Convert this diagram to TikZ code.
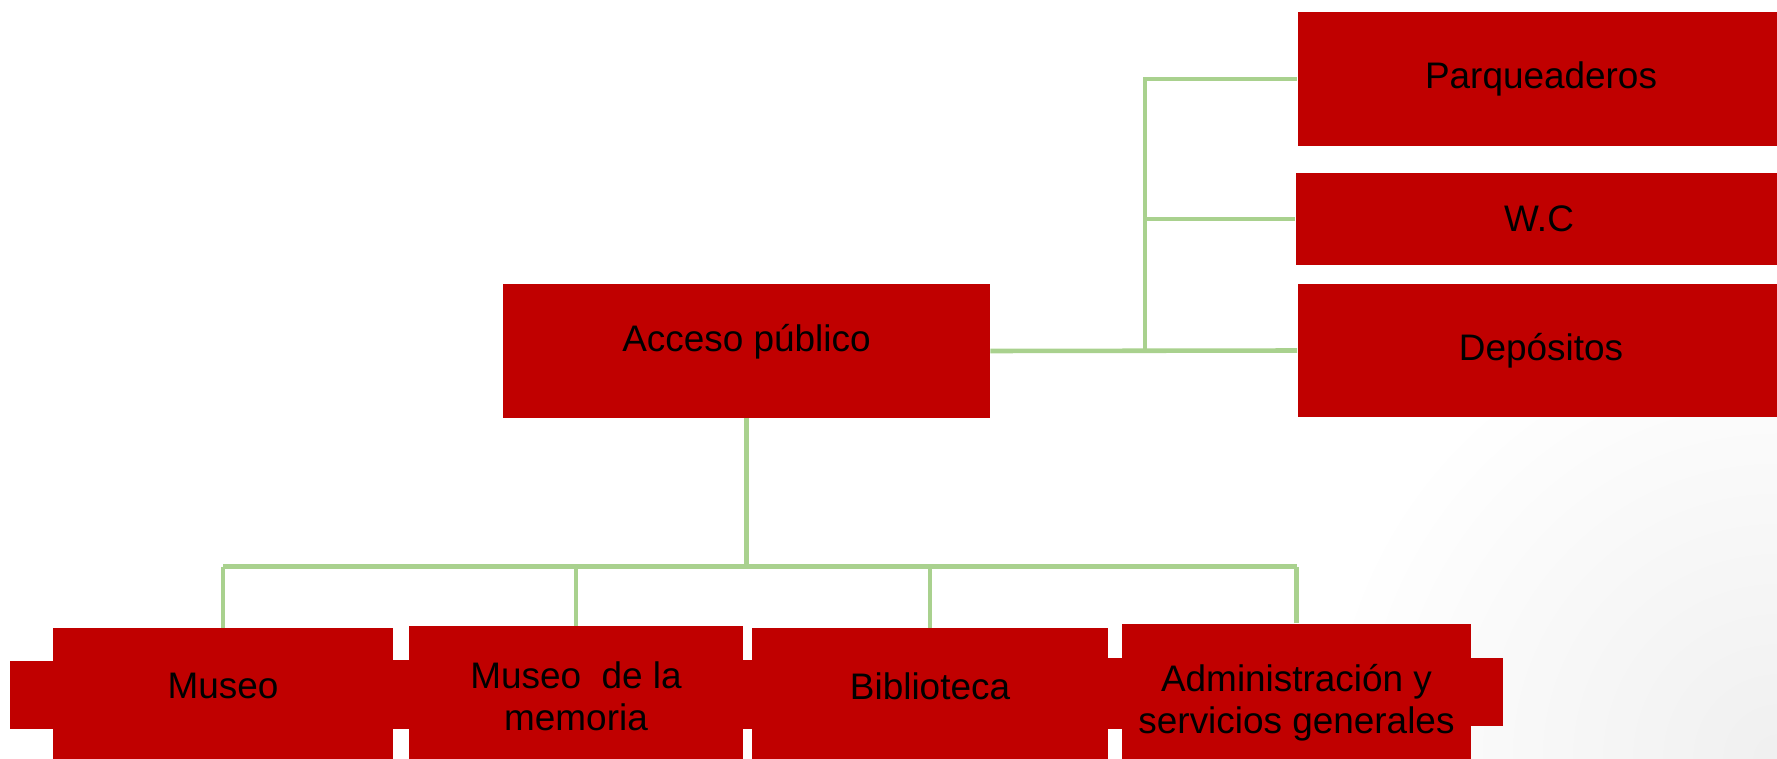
\documentclass[tikz,border=0pt]{standalone}
\usepackage{fontspec}
\setmainfont{Liberation Sans}
\usetikzlibrary{backgrounds,calc}
\definecolor{boxred}{RGB}{192,0,0}
\definecolor{linkgreen}{RGB}{169,209,142}
\tikzset{
	box/.style={fill=boxred, inner sep=0pt, align=center, font=\fontsize{10.5}{12}\selectfont},
	topbox/.style={box, minimum width=4.86cm},
	link/.style={linkgreen, line width=1.3pt},
}
\begin{document}
\begin{tikzpicture}[x=0.01cm, y=-0.01cm]
	\useasboundingbox (0,0) rectangle (1777,758);
	% Top boxes
	\node[topbox, minimum height=1.33cm, text height=0.7em, text depth=0.7em] (acc) at (746.5,351) {Acceso público};
	\node[topbox, minimum height=1.34cm] (par) at (1541,79) {Parqueaderos};
	\node[topbox, minimum height=0.92cm] (wc) at (1539,219) {W.C};
	\node[topbox, minimum height=1.33cm] (dep) at (1541,350.5) {Depósitos};
	
	% Bottom boxes
	\node[box, minimum width=3.40cm, minimum height=1.32cm, text depth=0.5em] (mus) at (223,694.5) {Museo};
	\node[box, minimum width=3.34cm, minimum height=1.34cm, text height=2.1em] (mem) at (576,693.5) {Museo\ \ de la\\memoria};
	\node[box, minimum width=3.56cm, minimum height=1.32cm, text depth=0.5em] (bib) at (930,694.5) {Biblioteca};
	\node[box, minimum width=3.49cm, minimum height=1.36cm, text height=2.6em] (adm) at (1296.5,692) {Administración y\\servicios generales};
	
	% Background and side bars
	\begin{scope}[on background layer]
		\clip (0,0) rectangle (1777,758);
		\shade[inner color=black!6, outer color=white] (1777,758) circle (4.6cm);
		\foreach \n/\e in {mus/42, mem/31, bib/31, adm/31}
			\fill[boxred] ($(\n.west)+(-\e,-34)$) rectangle ($(\n.east)+(\e,34)$);
	\end{scope}
	
	% Links to the right
	\coordinate (jr) at (1145,351);
	\draw[link] (acc.east) -- (dep.west);
	\draw[link] (par.west) -| (jr);
	\draw[link] (wc.west) -- (wc.west -| jr);
	
	% Links downwards
	\coordinate (bus) at (746.5,566.7);
	\draw[link] (acc.south) -- (bus);
	\draw[link] (mus.north |- bus) -- (adm.north |- bus);
	\foreach \n in {mus,mem,bib,adm}
		\draw[link] (\n.north) -- (\n.north |- bus);
	
\end{tikzpicture}
\end{document}
